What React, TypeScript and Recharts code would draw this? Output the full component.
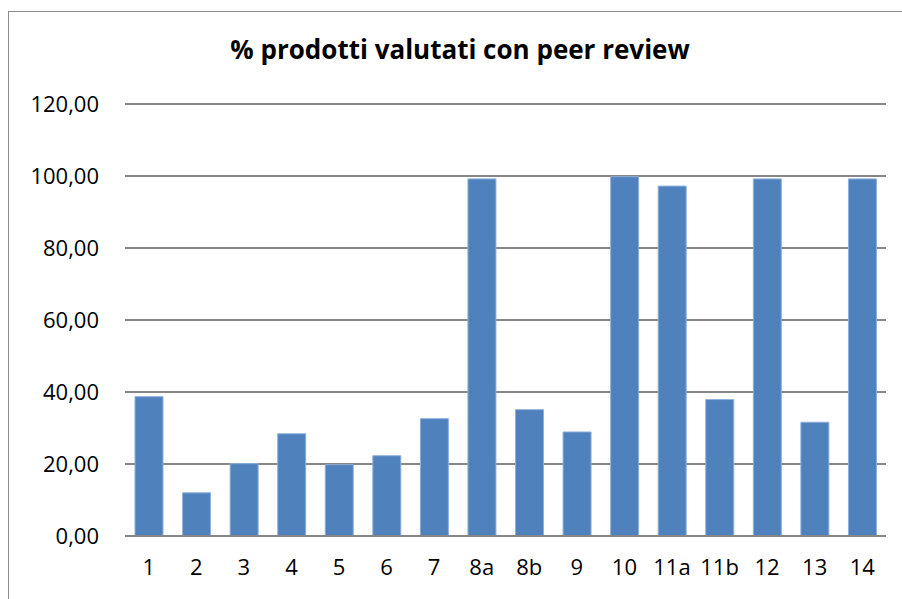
import { BarChart, Bar, XAxis, YAxis, CartesianGrid } from 'recharts';

const categories = ['1', '2', '3', '4', '5', '6', '7', '8a', '8b', '9', '10', '11a', '11b', '12', '13', '14'];
const values = [38.7, 12.0, 20.1, 28.4, 19.8, 22.3, 32.6, 99.2, 35.1, 28.9, 99.8, 97.2, 37.9, 99.2, 31.6, 99.2];
const yTicks = [0, 20, 40, 60, 80, 100, 120];

const data = categories.map((name, i) => ({ name, value: values[i] }));

const FONT = '"Open Sans", Lato, sans-serif';

export default function App() {
  return (
    <div
      style={{
        position: 'absolute',
        left: 0,
        top: 0,
        width: 902,
        height: 599,
        overflow: 'hidden',
        background: '#fff',
        fontFamily: FONT,
      }}
    >
      {/* chart frame, runs off the right and bottom edges */}
      <div
        style={{
          position: 'absolute',
          left: 8,
          top: 11,
          width: 920,
          height: 620,
          border: '1.5px solid #8c8c8c',
        }}
      />
      <div
        style={{
          position: 'absolute',
          left: 0,
          top: 32,
          width: 920,
          textAlign: 'center',
          fontWeight: 700,
          fontSize: 26,
          lineHeight: '34px',
          color: '#000',
        }}
      >
        % prodotti valutati con peer review
      </div>
      <BarChart
        width={902}
        height={599}
        data={data}
        margin={{ top: 104, right: 16, bottom: 33, left: 0 }}
        style={{ position: 'absolute', left: 0, top: 0 }}
      >
        <CartesianGrid vertical={false} stroke="#878787" strokeWidth={1.8} />
        <YAxis
          width={125}
          domain={[0, 120]}
          ticks={yTicks}
          interval={0}
          axisLine={false}
          tickLine={false}
          tickSize={0}
          tickMargin={26}
          tickFormatter={(v: number) => v.toFixed(2).replace('.', ',')}
          tick={{ fill: '#000', fontSize: 22, fontFamily: FONT }}
        />
        <XAxis
          dataKey="name"
          interval={0}
          axisLine={{ stroke: '#878787', strokeWidth: 1.8 }}
          tickLine={false}
          tickSize={0}
          tickMargin={23}
          tick={{ fill: '#000', fontSize: 22, fontFamily: FONT }}
        />
        <Bar
          dataKey="value"
          barSize={28}
          fill="#4F81BD"
          stroke="#8DB0DC"
          strokeWidth={1}
          isAnimationActive={false}
        />
      </BarChart>
    </div>
  );
}
